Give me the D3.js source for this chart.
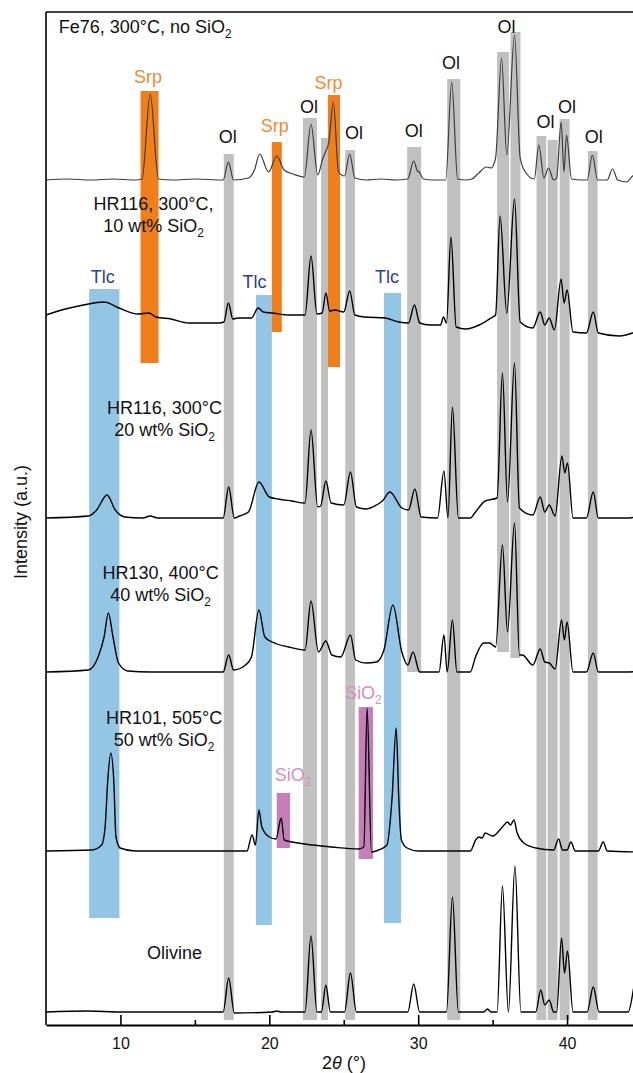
<!DOCTYPE html>
<html>
<head>
<meta charset="utf-8">
<script src="https://cdn.jsdelivr.net/npm/d3@7"></script>
<style>
  body { margin: 0; background: #fff; }
  svg { display: block; font-family: Arial, "Liberation Sans", sans-serif; }
</style>
</head>
<body>
<svg id="chart" width="633" height="1073"></svg>
<script>
// ---- data: 2theta (deg) and intensity (a.u.) above each pattern's own baseline ----

var fe76 = [[5.0,0],[6.5,1],[8.0,0],[9.5,1],[11.0,0],[11.45,1],[12.0,86],[12.55,1],[13.5,0],[15.0,1],
  [16.9,0],[17.25,18],[17.6,0],[18.6,2],[19.0,10],[19.35,26],[19.95,8],[20.5,24],[21.0,10],[21.6,6],
  [22.35,3],[22.8,56],[23.25,5],[23.6,22],[23.8,29],[24.0,38],[24.3,78],[24.65,8],[25.05,4],[25.4,26],
  [25.75,2],[26.5,0],[27.5,1],[28.5,0],[29.3,1],[29.7,19],[29.95,9],[30.07,8],[30.35,1],[31.0,0],
  [31.85,0],[32.25,98],[32.65,1],[33.2,0],[33.6,1],[34.0,6],[34.6,13],[34.9,12],[35.2,22],[35.6,122],
  [35.95,25],[36.47,145],[36.85,22],[37.2,8],[37.8,1],[38.1,35],[38.45,2],[38.75,12],[39.1,0],[39.3,2],
  [39.6,58],[39.8,8],[39.96,45],[40.3,1],[41.0,0],[41.35,0],[41.7,25],[42.05,0],[42.7,0],[43.05,11],
  [43.4,0],[44.0,-2],[44.4,4],[45.0,8]];

var hr116a = [[5.0,0],[6.3,6],[7.5,10],[8.9,13],[9.9,7],[11.2,1],[11.9,2],[12.4,-2],[13.4,-4],[14.6,-8],
  [16.6,-8],[16.95,-7],[17.25,12],[17.55,-4],[17.9,-3],[18.8,-3],[19.25,7],[19.6,3],[20.2,2],[21.3,0],
  [22.4,0],[22.8,59],[23.2,1],[23.55,2],[23.8,22],[24.05,4],[24.4,5],[25.0,3],[25.4,24],[25.75,0],
  [26.4,-2],[27.8,-3],[28.7,-7],[29.35,-8],[29.75,10],[30.1,-8],[30.8,-10],[31.5,-10],[31.7,-2],[31.9,-8],
  [32.2,78],[32.55,-12],[33.2,-14],[34.1,-10],[35.0,-2],[35.2,0],[35.5,99],[35.95,2],[36.47,116],[36.85,-7],
  [37.7,-13],[38.2,3],[38.5,-10],[38.8,-3],[39.15,-15],[39.6,36],[39.8,12],[40.0,25],[40.4,-17],[41.3,-18],
  [41.76,3],[42.1,-18],[43.5,-21],[44.4,-18],[45.0,-14]];

var hr116b = [[5.0,0],[7.85,2],[8.4,8],[9.1,23],[9.65,8],[10.3,1],[11.5,0],[12.0,2],[12.5,0],[16.9,0],
  [17.27,31],[17.65,0],[18.0,2],[18.6,6],[19.3,36],[20.0,21],[20.6,19],[21.5,17],[22.4,15],[22.8,88],
  [23.25,11],[23.45,12],[23.8,37],[24.15,15],[25.0,13],[25.45,46],[25.85,11],[26.5,9],[27.2,13],[27.6,17],
  [28.1,26],[28.9,10],[29.35,8],[29.78,29],[30.2,1],[31.3,0],[31.73,47],[32.0,0],[32.3,111],[32.7,0],
  [33.5,0],[33.8,5],[34.5,17],[35.3,20],[35.66,145],[36.0,16],[36.47,155],[36.8,10],[37.7,3],[38.2,21],
  [38.5,6],[38.8,13],[39.2,2],[39.65,62],[39.85,45],[40.03,55],[40.4,0],[41.3,0],[41.76,26],[42.1,0],
  [44.0,0],[45.0,2]];

var hr130 = [[5.0,0],[7.85,2],[8.5,15],[8.9,35],[9.19,59],[9.5,35],[9.87,9],[10.5,1],[12.0,0],[16.9,0],
  [17.27,17],[17.6,2],[18.4,7],[18.8,15],[19.3,62],[19.7,35],[20.2,30],[21.3,25],[22.4,22],[22.8,71],
  [23.3,20],[23.8,31],[24.2,17],[24.8,15],[25.45,37],[25.8,12],[26.5,9],[27.2,10],[27.7,22],[28.3,67],
  [28.9,20],[29.3,7],[29.65,20],[30.1,0],[31.4,0],[31.73,37],[31.95,0],[32.3,52],[32.6,0],[33.5,0],
  [33.85,15],[34.4,29],[34.8,29],[35.2,25],[35.66,127],[36.0,40],[36.47,149],[36.8,17],[37.0,17],[37.7,7],
  [38.2,23],[38.5,10],[38.8,9],[39.2,3],[39.63,52],[39.82,32],[40.0,50],[40.4,0],[41.3,0],[41.76,19],
  [42.1,0],[44.0,0],[45.0,1]];

var hr101 = [[5.0,0],[8.07,1],[8.74,6],[8.97,24],[9.15,71],[9.35,98],[9.55,71],[9.7,14],[9.98,3],[11.0,0],
  [18.5,0],[18.84,16],[19.07,6],[19.3,41],[19.5,24],[20.0,14],[20.45,12],[20.8,33],[21.0,11],[22.4,7],
  [24.2,4],[26.0,2],[26.35,4],[26.57,143],[26.86,-1],[27.35,1],[27.9,6],[28.25,54],[28.52,123],[28.7,51],
  [28.87,11],[29.25,3],[30.0,0],[33.5,0],[33.86,11],[34.08,14],[34.3,13],[34.5,18],[35.0,15],[35.66,24],
  [36.0,29],[36.2,26],[36.43,31],[36.65,18],[37.1,8],[37.9,3],[39.1,1],[39.43,12],[39.7,1],[40.0,1],
  [40.26,9],[40.55,0],[42.1,0],[42.43,9],[42.7,0],[45.0,-1]];

var olivine = [[5.0,0],[7.85,1],[10.0,0],[16.9,0],[17.27,34],[17.65,-1],[20.2,0],[20.5,1],[20.8,0],[22.4,0],
  [22.8,76],[23.2,0],[23.5,0],[23.8,27],[24.1,0],[25.05,0],[25.45,39],[25.85,0],[29.3,0],[29.7,28],
  [30.1,0],[31.9,0],[32.3,115],[32.7,0],[34.4,0],[34.65,3],[34.9,0],[35.3,0],[35.66,126],[36.06,0],
  [36.5,146],[36.9,0],[37.9,0],[38.23,22],[38.5,7],[38.8,12],[39.1,0],[39.3,0],[39.63,74],[39.83,39],
  [40.03,61],[40.4,0],[41.35,0],[41.76,25],[42.15,0],[44.1,0],[44.75,40],[45.0,10]];

var patterns = [fe76, hr116a, hr116b, hr130, hr101, olivine];
var offsets = [845, 710, 507, 353, 174, 13];

// reference bands: [from 2theta, to 2theta, low a.u., high a.u.]
var olBands = [[16.94,17.61,5,871],[22.26,23.2,5,907],[23.47,23.94,5,887],[25.1,25.76,5,875],
  [29.26,30.2,353,878],[31.95,32.83,5,946],[35.3,36.1,373,973],[36.2,36.87,367,993],
  [37.95,38.6,5,889],[38.7,39.36,5,885],[39.5,40.17,5,906],[41.4,42.05,5,874]];
var srpBands = [[11.35,12.56,662,934],[20.17,20.84,693,883],[23.94,24.75,658,930]];
var tlcBands = [[7.9,9.93,107,736],[19.1,20.17,100,730],[27.7,28.85,102,732]];
var sio2Bands = [[20.5,21.4,177,232],[26.0,26.97,166,318]];

// phase labels: [2theta, a.u.]
var olLabels = [[17.2,882],[22.66,912],[25.69,886],[29.7,888],[32.2,956],[35.93,992],[38.55,897],[40.0,912],[41.8,882]];
var srpLabels = [[11.85,942],[20.37,893],[23.98,936]];
var tlcLabels = [[8.82,742],[19.0,737],[27.9,742]];
var sio2Labels = [[20.37,244],[25.08,326]];

var sampleNames = [["Fe76, 300°C, no SiO2"], ["HR116, 300°C,", "10 wt% SiO2"], ["HR116, 300°C", "20 wt% SiO2"],
  ["HR130, 400°C", "40 wt% SiO2"], ["HR101, 505°C", "50 wt% SiO2"], ["Olivine"]];
var samplePos = [[5.85,992], [12.22,815], [12.96,611], [12.7,446], [12.93,301], [13.64,66]];

var majorTicks = [10, 20, 30, 40];
var minorTicks = [15, 25, 35];

// ---- layout ----
var svg = d3.select('#chart');
var x = d3.scaleLinear().domain([5, 45]).range([46, 641.5]);
var y = d3.scaleLinear().domain([0, 1013]).range([1025, 12]);

var colors = { ol: '#c0c0c0', srp: '#f07f1b', tlc: '#93c6e4', sio2: '#c57fb8' };
var textColors = { ol: '#111', srp: '#ee8a33', tlc: '#2e3d8f', sio2: '#d38ec3' };

// Writes a string into a text element, drawing "SiO2" with a subscript 2
function writeText(sel, str) {
  var parts = str.split('SiO2');
  parts.forEach(function(p, i) {
    var last = i === parts.length - 1;
    sel.append('tspan').attr('dy', i === 0 ? null : -5).text(p + (last ? '' : 'SiO'));
    if (!last) {
      sel.append('tspan').attr('font-size', '0.66em').attr('dy', 5).text('2');
    }
  });
}

// bands behind everything
function drawBands(bands, color) {
  svg.append('g').selectAll('rect')
    .data(bands)
    .enter().append('rect')
    .attr('x', function(d) { return x(d[0]); })
    .attr('width', function(d) { return x(d[1]) - x(d[0]); })
    .attr('y', function(d) { return y(d[3]); })
    .attr('height', function(d) { return y(d[2]) - y(d[3]); })
    .attr('fill', color);
}
drawBands(olBands, colors.ol);
drawBands(tlcBands, colors.tlc);
drawBands(srpBands, colors.srp);
drawBands(sio2Bands, colors.sio2);

// patterns
patterns.forEach(function(data, i) {
  var line = d3.line()
    .x(function(d) { return x(d[0]); })
    .y(function(d) { return y(offsets[i] + d[1]); })
    .curve(d3.curveMonotoneX);
  svg.append('path')
    .attr('d', line(data))
    .attr('fill', 'none')
    .attr('stroke', i === 0 ? '#3c3c3c' : '#000')
    .attr('stroke-width', i === 0 ? 1.2 : 1.4)
    .attr('stroke-linejoin', 'round');
});

// phase labels
function drawLabels(list, text, color, anchor) {
  list.forEach(function(d) {
    var t = svg.append('text')
      .attr('x', x(d[0]))
      .attr('y', y(d[1]))
      .attr('text-anchor', anchor)
      .attr('font-size', 18)
      .attr('fill', color);
    writeText(t, text);
  });
}
drawLabels(olLabels, 'Ol', textColors.ol, 'middle');
drawLabels(srpLabels, 'Srp', textColors.srp, 'middle');
drawLabels(tlcLabels, 'Tlc', textColors.tlc, 'middle');
drawLabels(sio2Labels, 'SiO2', textColors.sio2, 'start');

// sample names
sampleNames.forEach(function(lines, i) {
  lines.forEach(function(str, j) {
    var t = svg.append('text')
      .attr('x', x(samplePos[i][0]))
      .attr('y', y(samplePos[i][1]) + j * 22)
      .attr('text-anchor', i === 0 ? 'start' : 'middle')
      .attr('font-size', 18)
      .attr('fill', '#111');
    writeText(t, str);
  });
});

// frame: top and left
svg.append('line').attr('x1', 46).attr('x2', 633).attr('y1', 12).attr('y2', 12)
  .attr('stroke', '#000').attr('stroke-width', 1.6);
svg.append('line').attr('x1', 46).attr('x2', 46).attr('y1', 12).attr('y2', 1025)
  .attr('stroke', '#000').attr('stroke-width', 1.6);

// bottom axis, ticks pointing inward
var axisG = svg.append('g').attr('transform', 'translate(0,1025)');
axisG.call(d3.axisBottom(x).tickValues(majorTicks).tickSizeInner(-10).tickSizeOuter(0).tickPadding(13));
axisG.select('.domain').attr('stroke-width', 2.2);
axisG.selectAll('.tick line').attr('stroke-width', 1.6);
axisG.selectAll('.tick text').attr('font-size', 16).attr('font-family', 'Arial, "Liberation Sans", sans-serif').attr('fill', '#111');

var minorG = svg.append('g').attr('transform', 'translate(0,1025)');
minorG.call(d3.axisBottom(x).tickValues(minorTicks).tickSizeInner(-5).tickSizeOuter(0).tickFormat(''));
minorG.select('.domain').remove();
minorG.selectAll('.tick line').attr('stroke-width', 1.6);

// axis titles
var xt = svg.append('text').attr('x', 344).attr('y', 1069).attr('text-anchor', 'middle')
  .attr('font-size', 18).attr('fill', '#111');
xt.append('tspan').text('2');
xt.append('tspan').attr('font-style', 'italic').text('θ');
xt.append('tspan').text(' (°)');

svg.append('text')
  .attr('transform', 'translate(27,522) rotate(-90)')
  .attr('text-anchor', 'middle')
  .attr('font-size', 18)
  .attr('fill', '#111')
  .text('Intensity (a.u.)');
</script>
</body>
</html>
